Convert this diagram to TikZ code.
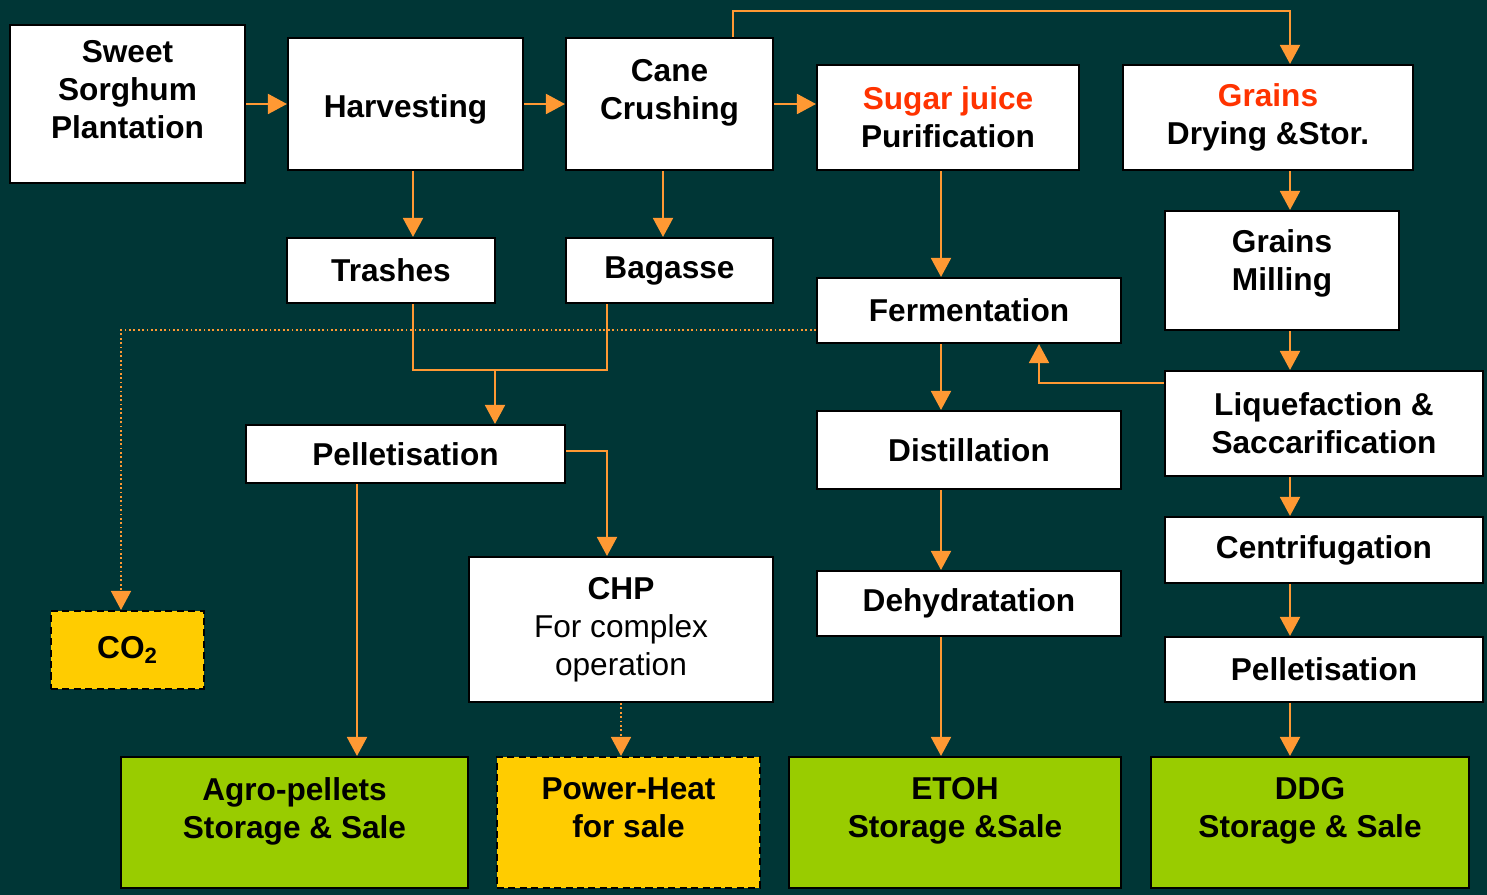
\documentclass[tikz,border=0pt]{standalone}
\usepackage{fontspec}
\setsansfont{Liberation Sans}
\usetikzlibrary{arrows.meta, positioning, calc}
\definecolor{cteal}{HTML}{003636}
\definecolor{corange}{HTML}{FF9933}
\definecolor{cred}{HTML}{FF3300}
\definecolor{cgreen}{HTML}{99CC00}
\definecolor{cyellow}{HTML}{FFCC00}
\tikzset{
  every picture/.style={font=\sffamily\bfseries\fontsize{18}{21.6}\selectfont},
  box/.style={draw=black, line width=1.2pt, fill=#1, align=center, inner sep=2pt},
  box/.default=white,
  raised/.style={text depth=17pt},
  product/.style={box=cgreen, raised},
  byproduct/.style={box=cyellow, dash pattern=on 4pt off 2.5pt},
  arrow/.style={-{Triangle[length=0.38cm, width=0.4cm]}, draw=corange, line width=1.1pt},
  link/.style={draw=corange, line width=1.1pt},
  dotarrow/.style={arrow, line width=0.9pt, dash pattern=on 1pt off 1.5pt},
  hi/.style={text=cred},
}

\begin{document}
\begin{tikzpicture}[x=0.02cm, y=-0.02cm]
  \fill[cteal] (0,0) rectangle (1487,895);
  % sugar line
  \node[box, raised, minimum width=4.7cm, minimum height=3.16cm] (plant) at (127.5,104) {Sweet\\Sorghum\\Plantation};
  \node[box, text height=19pt, minimum width=4.7cm, minimum height=2.64cm] (harv) at (405.5,104) {Harvesting};
  \node[box, raised, minimum width=4.14cm, minimum height=2.64cm] (cane) at (669.5,104) {Cane\\Crushing};
  \node[box, minimum width=5.24cm, minimum height=2.1cm] (sugar) at (948,117.5) {\textcolor{cred}{Sugar juice}\\Purification};
  \node[box, minimum width=4.16cm, minimum height=1.3cm] (trash) at (391,270.5) {Trashes};
  \node[box, minimum width=4.14cm, minimum height=1.3cm] (bag) at (669.5,270.5) {Bagasse};
  \node[box, minimum width=6.08cm, minimum height=1.3cm] (ferm) at (969,310.5) {Fermentation};
  \node[box, minimum width=6.38cm, minimum height=1.16cm] (pelL) at (405.5,454) {Pelletisation};
  \node[box, minimum width=6.08cm, minimum height=1.56cm] (dist) at (969,450) {Distillation};
  \node[box, minimum width=6.08cm, minimum height=2.9cm] (chp) at (621,629.5) {CHP\\{\mdseries For complex}\\{\mdseries operation}};
  \node[box, minimum width=6.08cm, minimum height=1.3cm] (dehy) at (969,603.5) {Dehydratation};
  % grain line
  \node[box, minimum width=5.8cm, minimum height=2.1cm] (grains) at (1268,117.5) {\textcolor{cred}{Grains}\\Drying \&Stor.};
  \node[box, text depth=12pt, minimum width=4.68cm, minimum height=2.38cm] (mill) at (1282,270.5) {Grains\\Milling};
  \node[box, minimum width=6.36cm, minimum height=2.1cm] (liq) at (1324,423.5) {Liquefaction \&\\Saccarification};
  \node[box, minimum width=6.36cm, minimum height=1.32cm] (cent) at (1324,550) {Centrifugation};
  \node[box, minimum width=6.36cm, minimum height=1.3cm] (pelR) at (1324,669.5) {Pelletisation};
  % outputs
  \node[byproduct, minimum width=3.06cm, minimum height=1.56cm] (co2) at (127.5,650) {CO\textsubscript{2}};
  \node[product, minimum width=6.94cm, minimum height=2.62cm] (agro) at (294.5,822.5) {Agro-pellets\\Storage \& Sale};
  \node[byproduct, raised, minimum width=5.26cm, minimum height=2.62cm] (power) at (628.5,822.5) {Power-Heat\\for sale};
  \node[product, minimum width=6.64cm, minimum height=2.62cm] (etoh) at (955,822.5) {ETOH\\Storage \&Sale};
  \node[product, minimum width=6.36cm, minimum height=2.62cm] (ddg) at (1310,822.5) {DDG\\Storage \& Sale};
  % lanes for the connectors
  \coordinate (jt) at (733,11);
  \coordinate (jm) at (495,370);
  \coordinate (tl) at (413,0);
  \coordinate (cb) at (663,0);
  \coordinate (bl) at (607,0);
  \coordinate (mc) at (941,0);
  \coordinate (rc) at (1290,0);
  \coordinate (cx) at (121,0);
  \coordinate (fx) at (1039,0);
  \coordinate (ax) at (357,0);
  \coordinate (px) at (621,0);
  \coordinate (dy) at (0,330);
  \coordinate (ly) at (0,383);
  \coordinate (py) at (0,451);
  % connectors
  \draw[arrow] (plant) -- (harv);
  \draw[arrow] (harv) -- (cane);
  \draw[arrow] (cane.east) -- (cane.east -| sugar.west);
  \draw[arrow] (cane.north -| jt) |- (jt) -| (grains.north -| rc);
  \draw[arrow] (harv.south -| tl) -- (trash.north -| tl);
  \draw[arrow] (cane.south -| cb) -- (bag.north -| cb);
  \draw[link] (trash.south -| tl) |- (jm);
  \draw[link] (bag.south -| bl) |- (jm);
  \draw[arrow] (jm) -- (pelL.north -| jm);
  \draw[arrow] (pelL.south -| ax) -- (agro.north -| ax);
  \draw[arrow] (pelL.east |- py) -| (chp.north -| bl);
  \draw[dotarrow] (chp.south -| px) -- (power.north -| px);
  \draw[arrow] (sugar.south -| mc) -- (ferm.north -| mc);
  \draw[dotarrow] (ferm.west |- dy) -| (co2.north -| cx);
  \draw[arrow] (ferm.south -| mc) -- (dist.north -| mc);
  \draw[arrow] (dist.south -| mc) -- (dehy.north -| mc);
  \draw[arrow] (dehy.south -| mc) -- (etoh.north -| mc);
  \draw[arrow] (grains.south -| rc) -- (mill.north -| rc);
  \draw[arrow] (mill.south -| rc) -- (liq.north -| rc);
  \draw[arrow] (liq.west |- ly) -| (ferm.south -| fx);
  \draw[arrow] (liq.south -| rc) -- (cent.north -| rc);
  \draw[arrow] (cent.south -| rc) -- (pelR.north -| rc);
  \draw[arrow] (pelR.south -| rc) -- (ddg.north -| rc);
\end{tikzpicture}
\end{document}
